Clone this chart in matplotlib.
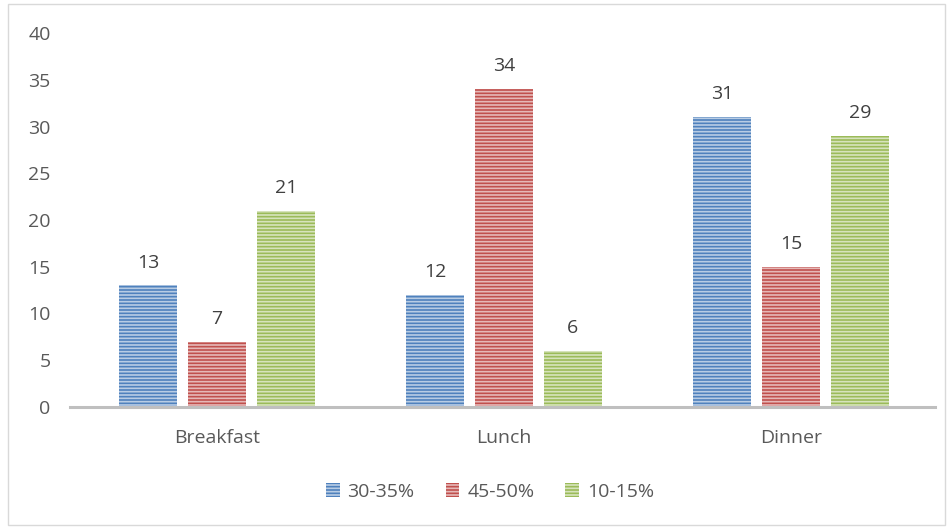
import numpy as np
import matplotlib.pyplot as plt
from matplotlib.patches import Rectangle

categories = ["Breakfast", "Lunch", "Dinner"]
series_names = ["30-35%", "45-50%", "10-15%"]
vals_30_35 = [13, 12, 31]
vals_45_50 = [7, 34, 15]
vals_10_15 = [21, 6, 29]
colors = ["#4F81BD", "#C0504D", "#9BBB59"]

plt.rcParams['font.family'] = ['Open Sans', 'DejaVu Sans']
plt.rcParams['hatch.linewidth'] = 1.2
text_color = "#595959"

fig = plt.figure(figsize=(9.53, 5.29), dpi=100)
ax = fig.add_axes([70 / 953, 1 - 407 / 529, 865 / 953, 374 / 529])

x = np.arange(len(categories))
width = 0.2
step = 0.24
handles = []
for i, (vals, c, name) in enumerate(zip([vals_30_35, vals_45_50, vals_10_15], colors, series_names)):
    bars = ax.bar(x + (i - 1) * step, vals, width, color=c, edgecolor=(1, 1, 1, 0.6),
                  hatch='-----', linewidth=0, label=name)
    handles.append(bars)
    for b, v in zip(bars, vals):
        ax.annotate(str(v), (b.get_x() + b.get_width() / 2, v), xytext=(0, 10),
                    textcoords='offset points', ha='center', va='bottom',
                    fontsize=14, color="#404040")

ax.set_xlim(-0.512, 2.502)
ax.set_ylim(0, 40)
ax.set_yticks(range(0, 41, 5))
ax.set_xticks(x)
ax.set_xticklabels(categories)
ax.tick_params(axis='both', length=0, labelsize=14, labelcolor=text_color)
ax.tick_params(axis='x', pad=16)
ax.tick_params(axis='y', pad=14)
for s in ['top', 'right', 'left']:
    ax.spines[s].set_visible(False)
ax.spines['bottom'].set_color("#BFBFBF")
ax.spines['bottom'].set_linewidth(2.2)

leg = fig.legend(handles=handles, loc='center', bbox_to_anchor=(490 / 953, 1 - 492 / 529),
                 ncol=3, frameon=False, fontsize=14, handlelength=0.7, handleheight=0.7,
                 columnspacing=1.6, handletextpad=0.4)
for t in leg.get_texts():
    t.set_color(text_color)

fig.patches.append(Rectangle((8 / 953, 4 / 529), 937 / 953, 521 / 529, transform=fig.transFigure,
                             fill=False, edgecolor="#D9D9D9", linewidth=1))

fig.savefig("out.png", dpi=100)
